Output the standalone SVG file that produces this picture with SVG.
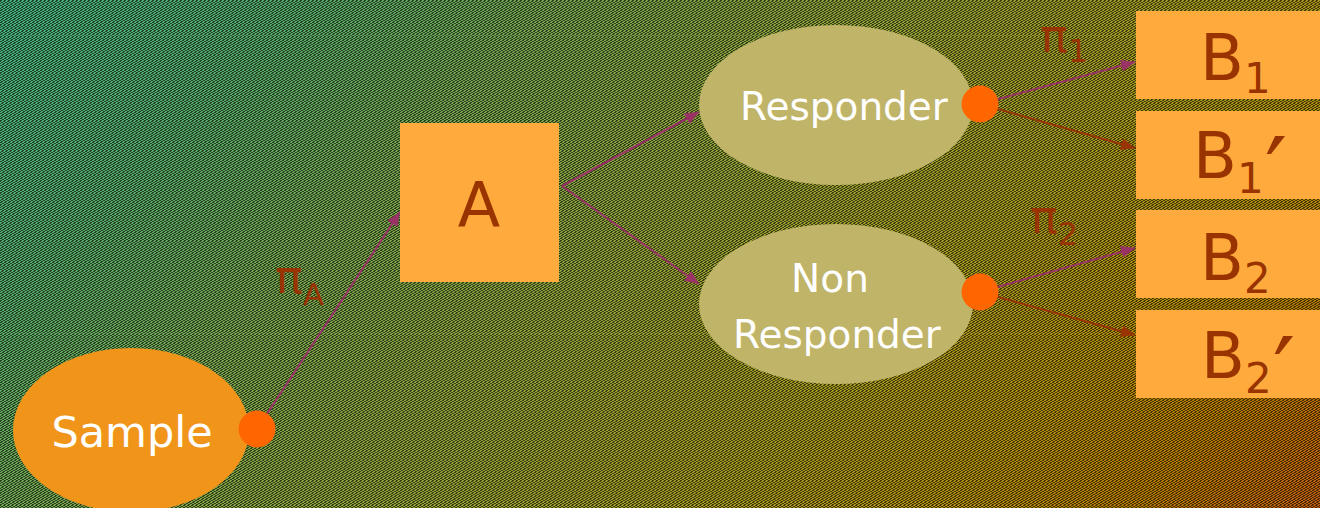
<svg xmlns="http://www.w3.org/2000/svg" width="1320" height="508" viewBox="0 0 1320 508">
  <defs>
    <linearGradient id="bgGrad" gradientUnits="userSpaceOnUse" x1="0" y1="0" x2="914" y2="914">
      <stop offset="0" stop-color="#46b27e"/>
      <stop offset="0.18" stop-color="#58aa66"/>
      <stop offset="0.3" stop-color="#74a650"/>
      <stop offset="0.5" stop-color="#94a236"/>
      <stop offset="0.66" stop-color="#a69c22"/>
      <stop offset="0.8" stop-color="#b28e0e"/>
      <stop offset="0.9" stop-color="#b87c02"/>
      <stop offset="1" stop-color="#be5e0e"/>
    </linearGradient>
    <!-- fine rising diagonal hatch, pixel aligned -->
    <pattern id="hatch" patternUnits="userSpaceOnUse" width="4" height="12">
      <path shape-rendering="crispEdges" fill="#000" fill-opacity="0.62"
        d="M0 0h2v1h-2z M3 1h1v1h-1z M0 1h1v1h-1z M1 2h2v1h-2z M3 3h1v1h-1z M0 3h1v1h-1z
           M2 4h2v1h-2z M0 5h2v1h-2z M2 6h2v1h-2z M1 7h2v1h-2z M3 8h1v1h-1z M0 8h1v1h-1z
           M1 9h2v1h-2z M0 10h2v1h-2z M2 11h2v1h-2z"/>
    </pattern>
    <marker id="arrowPurple" viewBox="0 0 14 12" refX="14" refY="6" markerWidth="14" markerHeight="12" markerUnits="userSpaceOnUse" orient="auto">
      <path d="M0 0L14 6L0 12z" fill="#993366"/>
    </marker>
    <marker id="arrowBrown" viewBox="0 0 14 12" refX="14" refY="6" markerWidth="14" markerHeight="12" markerUnits="userSpaceOnUse" orient="auto">
      <path d="M0 0L14 6L0 12z" fill="#993300"/>
    </marker>
  </defs>
  <style>
    .box { fill: #ffaa3c; }
    .oval { fill: #c0b468; }
    .dot { fill: #ff6600; }
    .lbl { font-family: "DejaVu Sans", Verdana, sans-serif; fill: #ffffff; }
    .brn { font-family: "DejaVu Sans", Verdana, sans-serif; fill: #993300; }
    .prime { font-size: 100px; }
    .pur { stroke: #993366; stroke-width: 2; fill: none; marker-end: url(#arrowPurple); }
    .red { stroke: #993300; stroke-width: 2; fill: none; marker-end: url(#arrowBrown); }
  </style>

  <!-- background -->
  <rect width="1320" height="508" fill="url(#bgGrad)"/>
  <rect width="1320" height="508" fill="url(#hatch)"/>
  <rect x="0" y="35" width="1320" height="1" fill="url(#bgGrad)" opacity="0.3"/>
  <rect x="0" y="333" width="1320" height="1" fill="url(#bgGrad)" opacity="0.3"/>

  <!-- connectors -->
  <g id="connectors">
    <line class="pur" x1="257" y1="429" x2="400" y2="212"/>
    <line class="pur" x1="562" y1="186" x2="699" y2="112"/>
    <line class="pur" x1="562" y1="186" x2="699" y2="284"/>
    <line class="pur" x1="980" y1="104" x2="1135" y2="62"/>
    <line class="red" x1="980" y1="104" x2="1135" y2="148"/>
    <line class="pur" x1="980" y1="292" x2="1135" y2="248"/>
    <line class="red" x1="980" y1="292" x2="1135" y2="335"/>
  </g>

  <!-- branch probabilities -->
  <g id="labels">
    <text class="brn" x="275" y="293" font-size="46">π<tspan font-size="31" dy="12">A</tspan></text>
    <text class="brn" x="1040" y="52" font-size="46">π<tspan font-size="32" dy="10">1</tspan></text>
    <text class="brn" x="1030" y="233" font-size="46">π<tspan font-size="32" dy="12">2</tspan></text>
  </g>

  <g id="sample">
    <ellipse cx="131" cy="430" rx="118" ry="82" fill="#f0951a"/>
    <text class="lbl" x="132" y="447" font-size="43" text-anchor="middle">Sample</text>
    <circle class="dot" cx="257" cy="429" r="18.5"/>
  </g>

  <g id="treatA">
    <rect class="box" x="400" y="123" width="159" height="159"/>
    <text class="brn" x="479" y="227" font-size="62" text-anchor="middle">A</text>
  </g>

  <g id="responder">
    <ellipse class="oval" cx="836" cy="105" rx="137" ry="80"/>
    <text class="lbl" x="844" y="120" font-size="39" text-anchor="middle">Responder</text>
    <circle class="dot" cx="980" cy="104" r="18.5"/>
  </g>

  <g id="nonResponder">
    <ellipse class="oval" cx="836" cy="304" rx="137" ry="80"/>
    <text class="lbl" font-size="39" text-anchor="middle"><tspan x="830" y="292">Non</tspan><tspan x="837" y="348">Responder</tspan></text>
    <circle class="dot" cx="980" cy="292" r="18.5"/>
  </g>

  <g id="treatB1">
    <rect class="box" x="1136" y="11" width="184" height="88"/>
    <text class="brn" x="1200" y="80" font-size="64">B<tspan font-size="42" dy="13">1</tspan></text>
  </g>

  <g id="treatB1p">
    <rect class="box" x="1136" y="111" width="184" height="88"/>
    <text class="brn" x="1193" y="178" font-size="64">B<tspan font-size="42" dy="15">1</tspan><tspan class="prime" dx="1" dy="16">′</tspan></text>
  </g>

  <g id="treatB2">
    <rect class="box" x="1136" y="210" width="184" height="88"/>
    <text class="brn" x="1200" y="280" font-size="64">B<tspan font-size="42" dy="13">2</tspan></text>
  </g>

  <g id="treatB2p">
    <rect class="box" x="1136" y="310" width="184" height="88"/>
    <text class="brn" x="1201" y="378" font-size="64">B<tspan font-size="42" dy="15">2</tspan><tspan class="prime" dx="1" dy="16">′</tspan></text>
  </g>
</svg>
